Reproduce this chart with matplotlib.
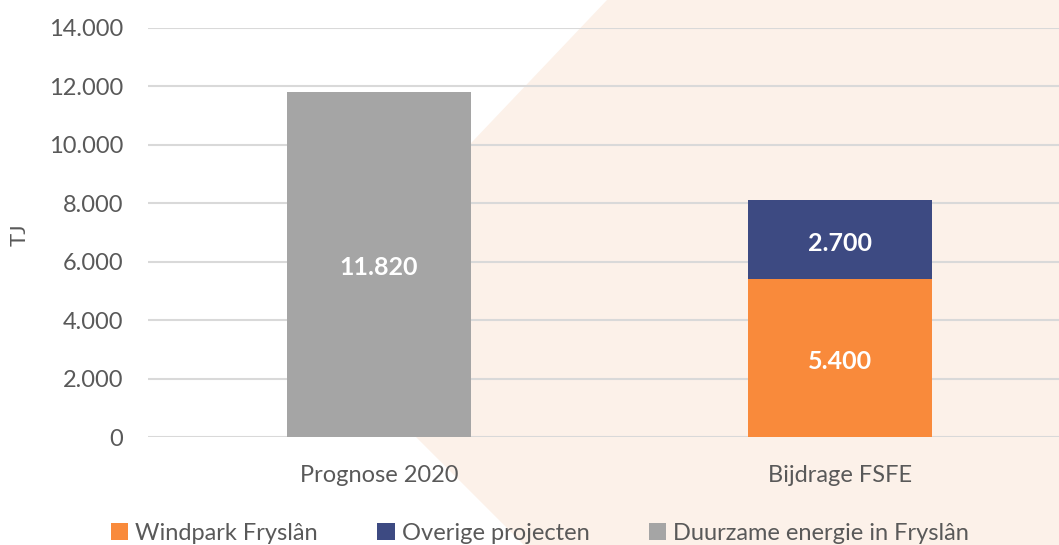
import matplotlib
matplotlib.use('Agg')
from matplotlib import pyplot as plt
from matplotlib.patches import Polygon, Patch
from matplotlib.ticker import FuncFormatter

# data
categories = ['Prognose 2020', 'Bijdrage FSFE']
windpark = [0, 5400]
overige = [0, 2700]
duurzaam = [11820, 0]
series_names = ['Windpark Fryslân', 'Overige projecten', 'Duurzame energie in Fryslân']

ORANGE = '#F98A3B'
NAVY = '#3D4A82'
GREY = '#A5A5A5'
PEACH = '#FCF1E9'
TXT = '#595959'

plt.rcParams['font.family'] = ['Lato', 'DejaVu Sans']

W, H = 1059, 545
fig = plt.figure(figsize=(W / 100, H / 100), dpi=100)

# decorative diagonal background shape (pixel coords, origin top-left)
pts = [(607, 0), (301, 322), (524, 545), (W, 545), (W, 0)]
poly = Polygon([(x / W, 1 - y / H) for x, y in pts], closed=True,
               transform=fig.transFigure, facecolor=PEACH, edgecolor='none', zorder=0)
fig.add_artist(poly)

ax = fig.add_axes([148 / W, 1 - 437 / H, (W - 148) / W, (437 - 28) / H])
ax.patch.set_alpha(0)
ax.set_zorder(1)

x = [0, 1]
bw = 0.40
ax.bar(x, windpark, bw, color=ORANGE, zorder=3)
ax.bar(x, overige, bw, bottom=windpark, color=NAVY, zorder=3)
ax.bar(x, duurzaam, bw, color=GREY, zorder=3)

def nl(v, pos=None):
    return f'{int(v):,}'.replace(',', '.')

# value labels
lab = dict(ha='center', va='center', color='white', fontsize=18, fontweight='bold', zorder=4)
ax.text(0, duurzaam[0] / 2 - 120, nl(duurzaam[0]), **lab)
ax.text(1, windpark[1] / 2 - 120, nl(windpark[1]), **lab)
ax.text(1, windpark[1] + overige[1] / 2 - 120, nl(overige[1]), **lab)

ax.set_ylim(0, 14000)
ax.set_yticks(range(0, 14001, 2000))
ax.yaxis.set_major_formatter(FuncFormatter(nl))
ax.set_xlim(-0.501, 1.475)
ax.set_xticks(x)
ax.set_xticklabels(categories)

ax.grid(axis='y', color='#D9D9D9', linewidth=1.5, zorder=1)
ax.set_axisbelow(True)
for s in ax.spines.values():
    s.set_visible(False)
ax.tick_params(axis='both', length=0, labelsize=17, labelcolor=TXT)
ax.tick_params(axis='y', pad=18)
ax.tick_params(axis='x', pad=20)

fig.text(20 / W, 1 - 235 / H, 'TJ', rotation=90, ha='center', va='center',
         fontsize=16, color=TXT)

handles = [Patch(facecolor=ORANGE), Patch(facecolor=NAVY), Patch(facecolor=GREY)]
fig.legend(handles, series_names, loc='center', bbox_to_anchor=(540 / W, 1 - 533 / H),
           ncol=3, frameon=False, fontsize=17, labelcolor=TXT,
           handlelength=0.75, handleheight=0.75, handletextpad=0.3, columnspacing=2.5,
           borderaxespad=0)

fig.savefig('out.png', dpi=100)
